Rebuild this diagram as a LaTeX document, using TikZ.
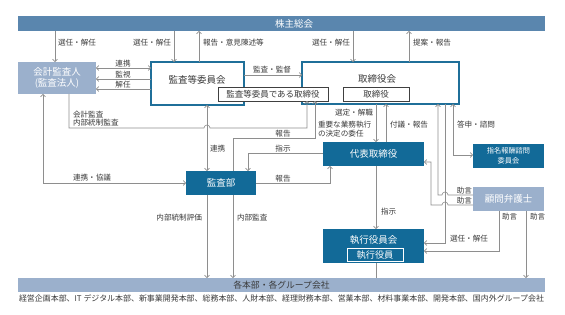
\documentclass[tikz,border=0pt]{standalone}
\usepackage{fontspec}
\setmainfont{Noto Sans CJK JP}
\usetikzlibrary{arrows.meta}
\definecolor{kabuc}{HTML}{5A86AE}
\definecolor{mainblue}{HTML}{126A98}
\definecolor{lightc}{HTML}{9BB0CC}
\definecolor{linec}{HTML}{8E8E8E}
\definecolor{txtc}{HTML}{3A3A3A}
\definecolor{borderc}{HTML}{1F6F99}
\definecolor{innerc}{HTML}{404040}
\begin{document}
\begin{tikzpicture}[x=1pt,y=-1pt,
  every node/.style={inner sep=0pt, outer sep=0pt},
  darkbox/.style={fill=mainblue, text=white, align=center, font=\fontsize{9.5}{11}\selectfont},
  lightbox/.style={fill=lightc, text=white, align=center, font=\fontsize{9.5}{11}\selectfont},
  whitebox/.style={draw=borderc, line width=1.1pt, fill=white},
  innerbox/.style={draw=innerc, line width=0.9pt, fill=white, text=txtc, font=\fontsize{8.5}{10}\selectfont},
  boxtext/.style={text=txtc, font=\fontsize{9.5}{11}\selectfont},
  lbl/.style={text=txtc, font=\fontsize{7.6}{9}\selectfont, align=left},
  ln/.style={draw=linec, line width=0.6pt},
  arr/.style={ln, -{Straight Barb[length=2.4pt,width=5pt]}},
  dbl/.style={ln, {Straight Barb[length=2.4pt,width=5pt]}-{Straight Barb[length=2.4pt,width=5pt]}}
]
\fill[white] (0,0) rectangle (565,315);
\useasboundingbox (0,0) rectangle (565,315);

% bars
\node[fill=kabuc, minimum width=527pt, minimum height=15pt] (kabu) at (281.5,23.5) {};
\node[text=white, font=\fontsize{9.5}{11}\selectfont] (kabut) at (294,23.5) {株主総会};
\node[fill=lightc, minimum width=527pt, minimum height=14pt, text=txtc, font=\fontsize{8.8}{10}\selectfont] (honbu) at (281.5,285) {各本部・各グループ会社};
\node[text=txtc, font=\fontsize{7.95}{9}\selectfont] (honbulist) at (281.5,298.5) {経営企画本部、IT デジタル本部、新事業開発本部、総務本部、人財本部、経理財務本部、営業本部、材料事業本部、開発本部、国内外グループ会社};

% boxes
\node[lightbox, minimum width=78pt, minimum height=32pt] (kaikei) at (57,78) {会計監査人\\(監査法人)};
\node[whitebox, minimum width=93pt, minimum height=43pt] (iinkai) at (197.5,83.5) {};
\node[boxtext] (iinkait) at (197,79.5) {監査等委員会};
\node[whitebox, minimum width=157pt, minimum height=42pt] (tori) at (380.5,83) {};
\node[boxtext] (torit) at (377,79) {取締役会};
\node[innerbox, minimum width=110pt, minimum height=14pt] (inner1) at (273,94) {監査等委員である取締役};
\node[innerbox, minimum width=66pt, minimum height=14pt] (inner2) at (376,94) {取締役};
\node[darkbox, minimum width=70pt, minimum height=24pt] (kansabu) at (221,183) {監査部};
\node[darkbox, minimum width=101pt, minimum height=24pt] (daihyo) at (373.5,154) {代表取締役};
\node[darkbox, minimum width=71pt, minimum height=24pt, font=\fontsize{7.2}{10}\selectfont] (shimei) at (508.5,156) {指名報酬諮問\\委員会};
\node[lightbox, minimum width=71pt, minimum height=24pt] (komon) at (508.5,199) {顧問弁護士};
\node[darkbox, minimum width=101pt, minimum height=34pt] (shikko) at (373.5,246) {};
\node[text=white, font=\fontsize{9.5}{11}\selectfont] (shikkot) at (373.5,240) {執行役員会};
\node[draw=white, line width=0.9pt, fill=mainblue, minimum width=56pt, minimum height=13.5pt, text=white, font=\fontsize{9.2}{11}\selectfont] (shikkoin) at (375,255) {執行役員};

% from 株主総会
\draw[arr] (55,0 |- kabu.south) -- (55,0 |- kaikei.north);
\draw[arr] (174,0 |- kabu.south) -- (174,0 |- iinkai.north);
\draw[arr] (199,0 |- iinkai.north) -- (199,0 |- kabu.south);
\draw[arr] (353,0 |- kabu.south) -- (353,0 |- tori.north);
\draw[arr] (409,0 |- tori.north) -- (409,0 |- kabu.south);
\node[lbl, anchor=west] (l1) at (58,43) {選任・解任};
\node[lbl, anchor=east] (l2) at (171,43) {選任・解任};
\node[lbl, anchor=west] (l3) at (203,43) {報告・意見陳述等};
\node[lbl, anchor=east] (l4) at (350,43) {選任・解任};
\node[lbl, anchor=west] (l5) at (413,43) {提案・報告};

% 会計監査人 - 監査等委員会
\draw[dbl] (kaikei.east |- 0,68) -- (iinkai.west |- 0,68);
\draw[arr] (iinkai.west |- 0,79) -- (kaikei.east |- 0,79);
\draw[arr] (iinkai.west |- 0,89) -- (kaikei.east |- 0,89);
\node[lbl] (l6) at (123,63.5) {連携};
\node[lbl] (l7) at (123,74.5) {監視};
\node[lbl] (l8) at (123,84.5) {解任};
\draw[arr] (iinkai.east |- 0,75) -- (tori.west |- 0,75);
\node[lbl] (l9) at (272,70) {監査・監督};

% 連携・協議
\draw[dbl] (43,0 |- kaikei.south) -- (43,183) -- (kansabu.west);
\node[lbl, anchor=west] (l10) at (73,178) {連携・協議};

% 会計監査・内部統制監査
\draw[arr] (69,0 |- kaikei.south) -- (69,128) -- (204,128) arc[start angle=180,end angle=0,radius=3pt] -- (307,128) -- (307,0 |- inner1.south);
\node[lbl, anchor=west] (l11) at (73,114.5) {会計監査};
\node[lbl, anchor=west] (l12) at (73,123) {内部統制監査};

% 連携 (監査等委員会 - 監査部)
\draw[dbl] (207,0 |- iinkai.south) -- (207,0 |- kansabu.north);
\node[lbl, anchor=west] (l13) at (210,149) {連携};

% 報告 (監査部 -> 監査等委員である取締役)
\draw[arr] (233,0 |- kansabu.north) -- (233,138) -- (315,138) -- (315,0 |- inner1.south);
\node[lbl] (l14) at (283,134) {報告};

% 指示 (代表取締役 -> 監査部)
\draw[arr] (daihyo.west |- 0,153) -- (248,153) -- (248,0 |- kansabu.north);
\node[lbl] (l15) at (283,148.5) {指示};

% 報告 (監査部 -> 代表取締役)
\draw[arr] (kansabu.east) -- (330,183) -- (330,0 |- daihyo.south);
\node[lbl] (l16) at (283,179) {報告};

% 取締役会 - 代表取締役
\draw[arr] (376,0 |- tori.south) -- (376,0 |- daihyo.north);
\draw[arr] (386,0 |- daihyo.north) -- (386,0 |- tori.south);
\node[lbl, anchor=east] (l17) at (373,113) {選定・解職};
\node[lbl, anchor=west] (l18) at (318,129) {重要な業務執行\\の決定の委任};
\node[lbl, anchor=west] (l19) at (390,125) {付議・報告};

% 答申・諮問
\draw[dbl] (453,0 |- tori.south) -- (453,155) -- (shimei.west |- 0,155);
\node[lbl, anchor=west] (l20) at (457,125) {答申・諮問};

% 顧問弁護士 助言
\draw[arr] (komon.west |- 0,195) -- (448,195) arc[start angle=0,end angle=180,radius=3pt] -- (438,195) -- (438,0 |- tori.south);
\draw[arr] (komon.west |- 0,205) -- (448,205) arc[start angle=0,end angle=180,radius=3pt] -- (431,205) -- (431,162) -- (daihyo.east |- 0,162);
\node[lbl, anchor=east] (l21) at (472,190.5) {助言};
\node[lbl, anchor=east] (l22) at (472,200.5) {助言};

% 選任・解任 (取締役会 -> 執行役員会)
\draw[arr] (445,0 |- tori.south) -- (445,243) -- (shikko.east |- 0,243);
\node[lbl, anchor=west] (l23) at (450,238.5) {選任・解任};

% 助言 (顧問弁護士 -> 執行役員会, 各本部)
\draw[arr] (499,0 |- komon.south) -- (499,251) -- (shikko.east |- 0,251);
\draw[arr] (526,0 |- komon.south) -- (526,0 |- honbu.north);
\node[lbl, anchor=west] (l24) at (502,217) {助言};
\node[lbl, anchor=west] (l25) at (530,217) {助言};

% 指示 (代表取締役 -> 執行役員会)
\draw[arr] (376,0 |- daihyo.south) -- (376,0 |- shikko.north);
\node[lbl, anchor=west] (l26) at (381,212) {指示};
\draw[ln] (376,0 |- shikko.south) -- (376,0 |- honbu.north);

% 監査部 -> 各本部
\draw[arr] (207,0 |- kansabu.south) -- (207,0 |- honbu.north);
\draw[arr] (233,0 |- kansabu.south) -- (233,0 |- honbu.north);
\node[lbl, anchor=east] (l27) at (202,218) {内部統制評価};
\node[lbl, anchor=west] (l28) at (237,218) {内部監査};
\end{tikzpicture}
\end{document}
